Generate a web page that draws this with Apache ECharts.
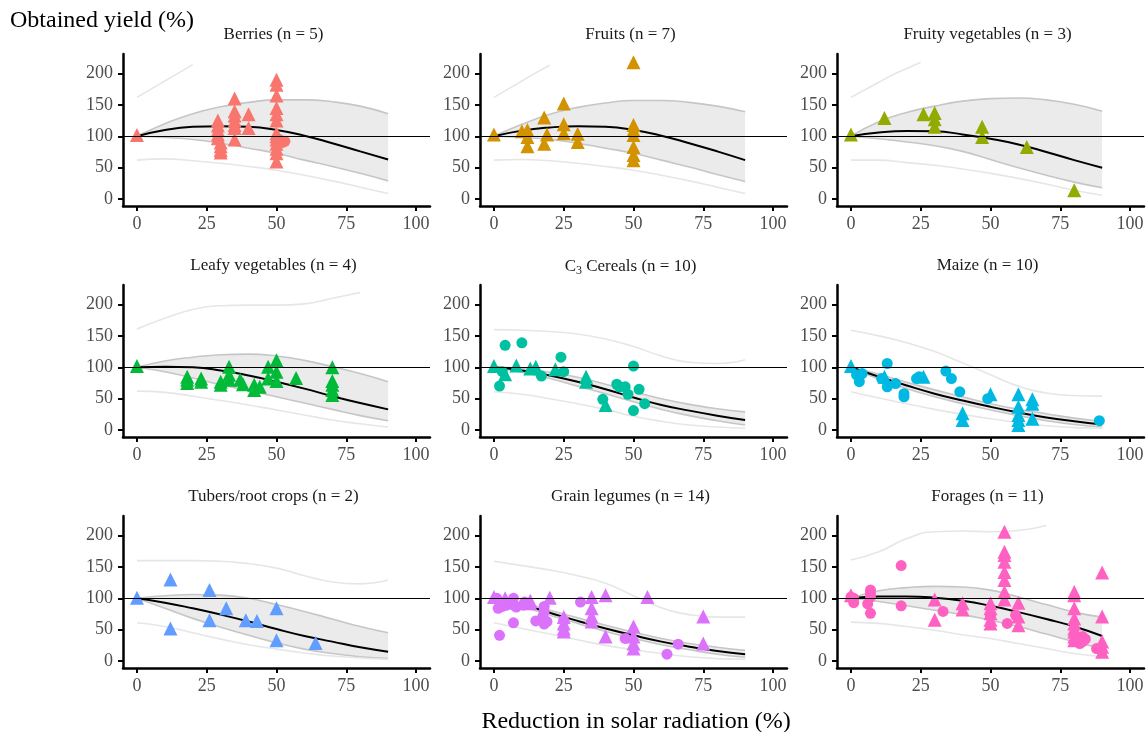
<!DOCTYPE html>
<html lang="en">
<head>
    <meta charset="UTF-8">
    <title>Obtained yield vs reduction in solar radiation</title>
    <script type="text/javascript" src="https://cdn.jsdelivr.net/npm/echarts@6/dist/echarts.min.js"></script>
    <style type="text/css">
        html, body { margin: 0; padding: 0; background: #fff; }
        #chart { width: 1148px; height: 732px; }
    </style>
</head>
<body>
<div id="chart"></div>
<script type="text/javascript">
    // panels (x = reduction %, y = yield %)
    var panelTitles = ['Berries (n = 5)', 'Fruits (n = 7)', 'Fruity vegetables (n = 3)',
        'Leafy vegetables (n = 4)', 'C{sub|3} Cereals (n = 10)', 'Maize (n = 10)',
        'Tubers/root crops (n = 2)', 'Grain legumes (n = 14)', 'Forages (n = 11)'];
    var panelColors = ['#F8766D', '#D39200', '#93AA00', '#00BA38', '#00C19F',
        '#00B9E3', '#619CFF', '#DB72FB', '#FF61C3'];

    var xTicks = [0, 25, 50, 75, 100];
    var yTicks = [0, 50, 100, 150, 200];

    var curveX = [0, 10, 20, 30, 40, 50, 60, 70, 80, 90];

    // fitted curve
    var fitY = [
        [100, 110, 115, 116, 115, 110, 101, 89, 76, 63],
        [100, 109, 114, 116, 115, 110, 101, 89, 76, 62],
        [100, 106, 108.5, 108, 103, 96, 87, 75, 62, 50],
        [100, 101, 100, 95, 87, 77, 66, 54, 43, 33],
        [100, 95, 87, 77, 65, 52, 40, 31, 23, 16],
        [100, 85, 71, 58, 47, 37, 28, 20, 14, 9],
        [100, 93, 84, 74, 63, 51, 40, 31, 22, 15],
        [100, 90, 77, 64, 52, 41, 31, 23, 16, 11],
        [100, 103, 103, 101, 96, 88, 78, 67, 55, 40]
    ];
    // confidence band
    var ciHiY = [
        [100, 120, 136, 147, 154, 158, 158, 155, 148, 136],
        [100, 119, 135, 146, 153, 157, 157, 154, 148, 139],
        [100, 123, 138, 148, 156, 160, 161, 158, 151, 140],
        [100, 110, 116, 120, 121, 118, 111, 101, 90, 77],
        [100, 98, 92, 84, 73, 61, 50, 41, 34, 29],
        [100, 89, 76, 64, 53, 42, 33, 26, 19, 14],
        [100, 104, 106, 105, 100, 90, 79, 67, 55, 45],
        [100, 93, 81, 69, 57, 46, 36, 28, 22, 17],
        [100, 112, 117, 119, 118, 113, 102, 90, 78, 70]
    ];
    var ciLoY = [
        [100, 98, 95, 89, 81, 73, 62, 52, 41, 29],
        [100, 98, 95, 89, 81, 73, 62, 51, 39, 28],
        [100, 96, 91, 85, 76, 63, 50, 38, 27, 18],
        [100, 93, 83, 72, 63, 53, 43, 33, 23, 15],
        [100, 92, 82, 70, 58, 45, 33, 23, 15, 8],
        [100, 81, 66, 53, 42, 32, 23, 15, 9, 5],
        [100, 84, 68, 54, 41, 29, 19, 12, 7, 4],
        [100, 87, 73, 60, 47, 36, 26, 18, 11, 6],
        [100, 95, 88, 81, 74, 65, 55, 43, 31, 20]
    ];
    // prediction interval
    var piLoY = [
        [62, 64, 61, 57, 52, 46, 38, 29, 19, 9],
        [62, 63, 61, 57, 52, 46, 38, 29, 19, 9],
        [62, 62, 58, 54, 48, 41, 33, 24, 14, 6],
        [62, 60, 54, 47, 40, 32, 24, 16, 10, 5],
        [61, 57, 50, 42, 33, 22, 14, 8, 5, 3],
        [61, 51, 42, 33, 25, 18, 12, 7, 4, 3],
        [61, 55, 45, 35, 26, 19, 13, 8, 5, 3],
        [61, 52, 43, 34, 25, 18, 12, 7, 4, 3],
        [62, 60, 55, 49, 42, 36, 28, 20, 12, 7]
    ];
    var piHiPts = [
        [[0, 162], [5, 175], [10, 188], [15, 201], [20, 214]],
        [[0, 162], [5, 175], [10, 188], [15, 201], [20, 213]],
        [[0, 162], [5, 174], [10, 186], [15, 198], [20, 208], [25, 218]],
        [[0, 161], [10, 178], [20, 192], [30, 198], [40, 199], [50, 199], [60, 201], [70, 210], [80, 219]],
        [[0, 160], [10, 159], [20, 157], [30, 153], [40, 145], [50, 133], [60, 118], [70, 108], [80, 106], [90, 112]],
        [[0, 159], [10, 150], [20, 139], [30, 125], [40, 107], [50, 88], [60, 70], [70, 59], [80, 55], [90, 54]],
        [[0, 160], [10, 160], [20, 160], [30, 159], [40, 155], [50, 148], [60, 136], [70, 126], [80, 123], [90, 129]],
        [[0, 159], [10, 152], [20, 145], [30, 136], [40, 124], [50, 104], [60, 85], [70, 74], [80, 70], [90, 70]],
        [[0, 161], [10, 174], [20, 195], [30, 206], [40, 207], [50, 206], [60, 208], [70, 216]]
    ];

    // observations: triangles and circles
    var triPts = [
        [[0,102],[29,125],[29,117],[29,110],[29,103],[29,97],[30,90],[30,84],[30,78],[30,74],[35,160],[35,140],[35,133],[35,125],[35,118],[35,113],[35,95],[40,135],[40,113],[50,190],[50,182],[50,165],[50,145],[50,135],[50,125],[50,105],[50,100],[50,95],[50,88],[50,80],[50,73],[50,60]],
        [[0,103],[10,108],[12,110],[12,99],[12,84],[18,130],[19,103],[18,88],[25,152],[25,119],[25,105],[30,104],[30,91],[50,218],[50,118],[50,110],[50,102],[50,83],[50,70],[50,62]],
        [[0,103],[12,129],[26,135],[30,137],[30,127],[30,115],[47,115],[47,99],[63,83],[80,14]],
        [[0,102],[18,85],[18,80],[18,75],[23,82],[23,77],[30,77],[30,72],[33,101],[33,88],[33,80],[37,80],[38,73],[42,72],[42,64],[44,69],[47,101],[47,82],[50,111],[50,93],[50,78],[57,83],[70,100],[70,78],[70,72],[70,64],[70,56]],
        [[0,102],[4,89],[8,103],[13,98],[15,101],[22,97],[33,85],[33,77],[40,40]],
        [[0,102],[12,85],[26,85],[40,27],[40,16],[50,57],[60,57],[60,37],[60,24],[60,16],[60,8],[65,49],[65,42],[65,18]],
        [[0,101],[12,130],[12,52],[26,113],[26,65],[32,84],[39,65],[43,64],[50,84],[50,33],[64,29]],
        [[0,102],[4,100],[13,96],[13,92],[20,101],[25,70],[25,60],[25,52],[25,47],[35,102],[35,84],[35,71],[35,63],[40,105],[40,39],[50,55],[50,39],[50,28],[50,20],[55,102],[75,71],[75,28]],
        [[0,105],[30,98],[30,66],[40,92],[40,82],[50,92],[50,84],[50,76],[50,66],[50,60],[55,206],[55,174],[55,169],[55,158],[55,142],[55,129],[55,110],[55,98],[60,93],[60,71],[60,57],[80,110],[80,105],[80,84],[80,68],[80,60],[80,52],[80,47],[80,39],[80,33],[90,141],[90,71],[90,31],[90,23],[90,15]]
    ];
    var circPts = [
        [[51,95],[52,90],[53,92]],
        [],
        [],
        [],
        [[2,70],[4,135],[10,139],[3,93],[17,86],[24,116],[25,93],[39,49],[44,73],[45,69],[47,69],[48,57],[50,102],[52,65],[50,31],[54,42]],
        [[2,88],[3,77],[4,90],[11,82],[13,106],[13,69],[16,74],[19,58],[19,53],[23.5,82],[24.5,85],[34,94],[36,82],[39,61],[49,50],[89,15]],
        [],
        [[1,100],[2,94],[1.5,84],[3,87],[4.5,89],[6,92],[7,100],[7,89],[8,86],[10.5,89],[11,94],[2,41],[7,61],[15,64],[18,87],[18,79],[18,59],[19,63],[17.5,71],[31,94],[25,65],[47,36],[66,27],[62,11]],
        [[0,102],[1,100],[1,93],[6,91],[7,113],[7,108],[7,102],[7,76],[18,152],[18,88],[33,79],[50,73],[56,60],[59,73],[83,31],[84,35],[83,39],[82,28],[88,20]]
    ];

    var colLeft = [123, 480, 837];
    var rowTop = [54, 285, 516];
    var gridW = 307, gridH = 152;
    var serif = 'Liberation Serif';

    var grids = [], xAxes = [], yAxes = [], series = [], titles = [];

    function pairs(ys) {
        return curveX.map(function (x, k) { return [x, ys[k]]; });
    }

    for (var i = 0; i < 9; i++) {
        var col = i % 3, row = Math.floor(i / 3);
        grids.push({left: colLeft[col], top: rowTop[row], width: gridW, height: gridH, containLabel: false});
        xAxes.push({
            type: 'value', gridIndex: i, min: -5, max: 105, z: 10,
            splitLine: {show: false},
            axisLine: {show: true, onZero: false, lineStyle: {color: '#000', width: 2.5}},
            axisTick: {show: true, length: 5, lineStyle: {color: '#000', width: 2}, customValues: xTicks},
            axisLabel: {color: '#4D4D4D', fontFamily: serif, fontSize: 18, margin: 9, customValues: xTicks}
        });
        yAxes.push({
            type: 'value', gridIndex: i, min: -11, max: 231, z: 10,
            splitLine: {show: false},
            axisLine: {show: true, onZero: false, lineStyle: {color: '#000', width: 2.5}},
            axisTick: {show: true, length: 5, lineStyle: {color: '#000', width: 2}, customValues: yTicks},
            axisLabel: {color: '#4D4D4D', fontFamily: serif, fontSize: 18, margin: 10, customValues: yTicks}
        });
        titles.push({
            text: panelTitles[i], padding: 0,
            left: colLeft[col] + gridW / 2 - 3, top: rowTop[row] - 28, textAlign: 'center',
            textStyle: {
                fontFamily: serif, fontSize: 17, fontWeight: 'normal', color: '#1A1A1A',
                rich: {sub: {fontFamily: serif, fontSize: 12, color: '#1A1A1A', padding: [8, 0, 0, 0]}}
            }
        });

        var base = {xAxisIndex: i, yAxisIndex: i, symbol: 'none', smooth: true, silent: true};
        // upper band edge filled grey, lower edge filled white on top of it
        series.push(Object.assign({}, base, {
            type: 'line', z: 1, data: pairs(ciHiY[i]),
            lineStyle: {color: '#C6C6C6', width: 1.6},
            areaStyle: {color: '#EBEBEB', opacity: 1, origin: 'start'}
        }));
        series.push(Object.assign({}, base, {
            type: 'line', z: 1, data: pairs(ciLoY[i]),
            lineStyle: {color: '#C6C6C6', width: 1.6},
            areaStyle: {color: '#FFFFFF', opacity: 1, origin: 'start'}
        }));
        series.push(Object.assign({}, base, {
            type: 'line', z: 2, data: pairs(piLoY[i]),
            lineStyle: {color: '#E6E6E6', width: 1.6}
        }));
        series.push(Object.assign({}, base, {
            type: 'line', z: 2, data: piHiPts[i],
            lineStyle: {color: '#E6E6E6', width: 1.6}
        }));
        series.push(Object.assign({}, base, {
            type: 'line', z: 3, data: pairs(fitY[i]),
            lineStyle: {color: '#000', width: 2},
            markLine: {
                silent: true, symbol: 'none', label: {show: false},
                lineStyle: {color: '#000', width: 1, type: 'solid'},
                data: [{yAxis: 100}]
            }
        }));
        series.push({
            type: 'scatter', xAxisIndex: i, yAxisIndex: i, z: 4, silent: true,
            symbol: 'triangle', symbolSize: 14, data: triPts[i],
            itemStyle: {color: panelColors[i], opacity: 1}
        });
        series.push({
            type: 'scatter', xAxisIndex: i, yAxisIndex: i, z: 4, silent: true,
            symbol: 'circle', symbolSize: 11, data: circPts[i],
            itemStyle: {color: panelColors[i], opacity: 1}
        });
    }

    titles.push({
        text: 'Obtained yield (%)', left: 10, top: 9, padding: 0,
        textStyle: {fontFamily: serif, fontSize: 24, fontWeight: 'normal', color: '#000'}
    });
    titles.push({
        text: 'Reduction in solar radiation (%)', left: 636, top: 710, padding: 0, textAlign: 'center',
        textStyle: {fontFamily: serif, fontSize: 24, fontWeight: 'normal', color: '#000'}
    });

    var chart = echarts.init(document.getElementById('chart'));
    chart.setOption({
        animation: false,
        backgroundColor: '#fff',
        title: titles,
        grid: grids,
        xAxis: xAxes,
        yAxis: yAxes,
        series: series
    });
</script>
</body>
</html>
